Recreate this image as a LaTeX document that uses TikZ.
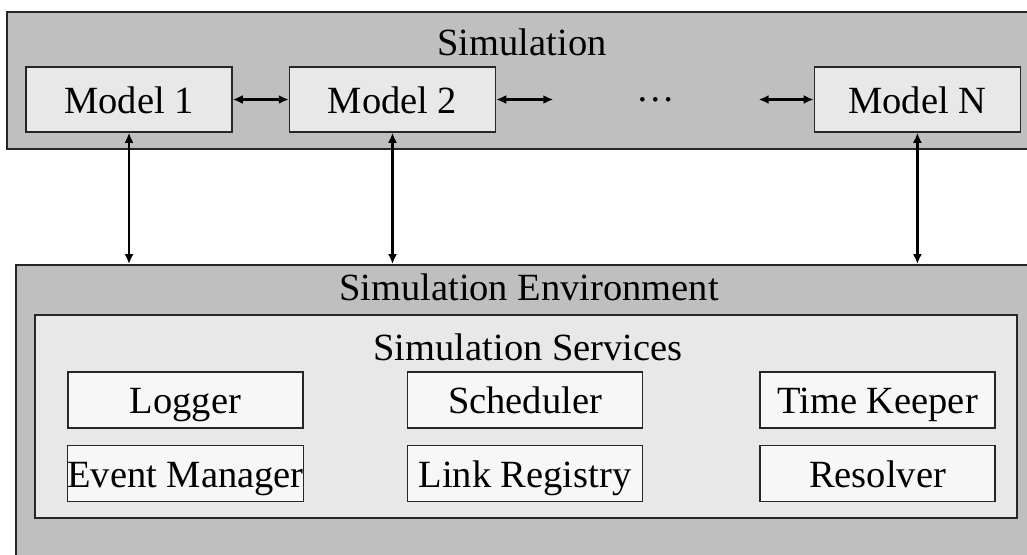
\documentclass[tikz,border=0pt]{standalone}
\usepackage{fontspec}
\setmainfont{Liberation Serif}
\usetikzlibrary{arrows.meta,positioning}

\begin{document}
\begin{tikzpicture}[x=1pt,y=-1pt,>={Latex[length=10pt,width=9pt]},
  font=\fontsize{38.5}{46}\selectfont,
  layer/.style={draw=black!85,line width=1.8pt,fill=black!25,inner sep=0pt},
  panel/.style={draw=black!85,line width=1.6pt,fill=black!9,inner sep=0pt},
  model/.style={draw=black!85,line width=1.5pt,fill=black!9,minimum width=206pt,minimum height=65pt,inner sep=0pt,text height=27pt,text depth=0pt},
  gap/.style={minimum width=205pt,inner sep=0pt},
  service/.style={draw=black!85,line width=1.5pt,fill=black!3,minimum width=235pt,minimum height=56pt,inner sep=0pt,text height=27pt,text depth=0pt},
  title/.style={anchor=base,inner sep=0pt},
  link/.style={<->,line width=2.4pt}]

\clip (0,0) rectangle (1027,554);

\node[layer,minimum width=1033pt,minimum height=137pt] (sim) at (523.5,80.5) {};
\node[title] (simtitle) at (522,55) {Simulation};

\node[model] (m1) at (129,99.5) {Model 1};
\node[model] (m2) [right=56pt of m1] {Model 2};
\node[gap] (dots) [right=57pt of m2] {\dots};
\node[model] (mN) [right=55pt of dots] {Model N};

\node[layer,minimum width=1024pt,minimum height=305pt] (env) at (528,417.5) {};
\node[title] (envtitle) at (529,300) {Simulation Environment};

\node[panel,minimum width=982pt,minimum height=203pt] (svc) at (526,416.5) {};
\node[title] (svctitle) at (528,360) {Simulation Services};

\node[service] (logger) at (185.5,400) {Logger};
\node[service] (events) [below=16pt of logger] {Event Manager};
\node[service] (sched) [right=103pt of logger] {Scheduler};
\node[service] (links) [below=16pt of sched] {Link Registry};
\node[service] (keeper) [right=116pt of sched] {Time Keeper};
\node[service] (resolver) [below=16pt of keeper] {Resolver};

\foreach \from/\to in {m1/m2, m2/dots, dots/mN}
    {
    \draw[link] (\from) -- (\to);
    }

\foreach \m in {m1, m2, mN}
    {
    \draw[link] (\m.south) -- (\m.south |- env.north);
    }

\end{tikzpicture}
\end{document}
